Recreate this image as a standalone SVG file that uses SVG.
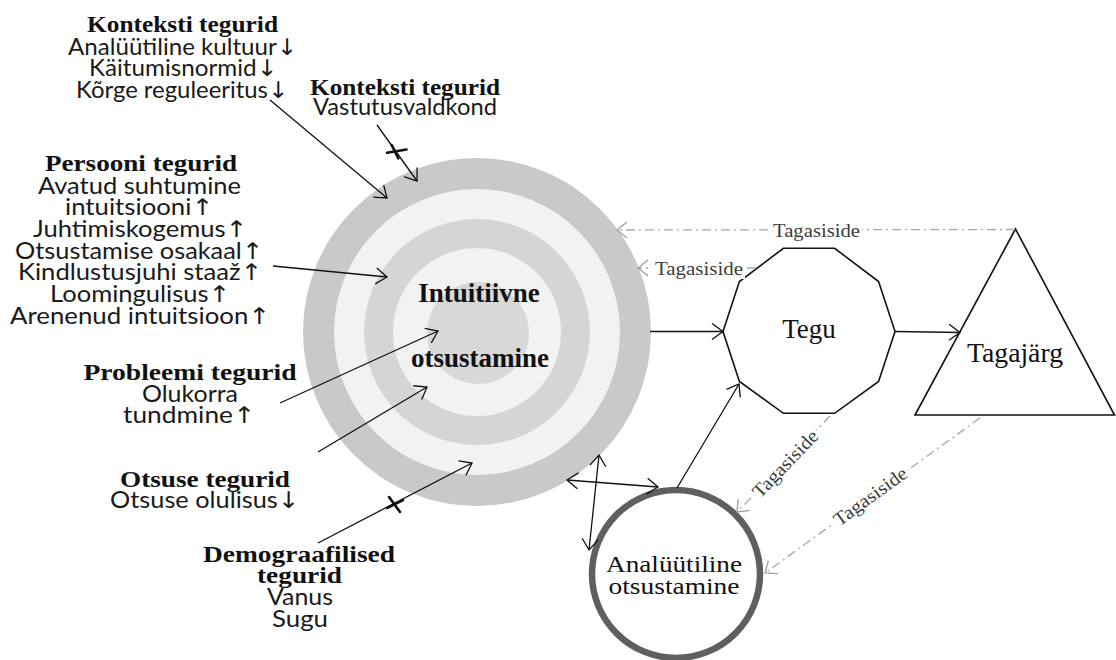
<svg xmlns="http://www.w3.org/2000/svg" width="1116" height="660" viewBox="0 0 1116 660">
<defs>
<style>
.hb{font-family:"Liberation Serif","Times New Roman",serif;font-weight:bold;font-size:24px;fill:#111;text-anchor:middle}
.sn{font-family:Lato,"DejaVu Sans",sans-serif;font-size:23px;fill:#1a1a1a;text-anchor:middle}
.sr{font-family:"Liberation Serif","Times New Roman",serif;fill:#111;text-anchor:middle}
.fb{font-family:"Liberation Serif","Times New Roman",serif;font-size:19px;fill:#3c3c3c;text-anchor:middle}
.ln{stroke:#111;stroke-width:1.3;fill:none}
.fl{stroke:#a8a8a8;stroke-width:1.3;fill:none;stroke-dasharray:9 4 2 4}
.x{stroke:#111;stroke-width:2.6;stroke-linecap:round}
.shape{fill:#fff;stroke:#111;stroke-width:1.6}
</style>
<marker id="ar" viewBox="-13 -10 15 20" refX="0" refY="0" markerWidth="15" markerHeight="20" markerUnits="userSpaceOnUse" orient="auto-start-reverse">
<path d="M-11,-8 L0,0 L-11,8" fill="none" stroke="#111" stroke-width="1.3"/>
</marker>
<marker id="ag" viewBox="-13 -10 15 20" refX="0" refY="0" markerWidth="15" markerHeight="20" markerUnits="userSpaceOnUse" orient="auto">
<path d="M-10,-8 L0,0 L-10,8" fill="none" stroke="#a0a0a0" stroke-width="1.3"/>
</marker>
</defs>
<rect width="1116" height="660" fill="#fff"/>

<g id="intuitiivne">
<circle cx="477" cy="332" r="174" fill="#c9c9c9"/>
<circle cx="477" cy="332" r="143" fill="#f2f2f2"/>
<circle cx="477" cy="332" r="113" fill="#d5d5d5"/>
<circle cx="477" cy="332" r="84" fill="#f2f2f2"/>
<circle cx="478" cy="333" r="51" fill="#d8d8d8"/>
<text class="sr" x="479" y="302" font-size="27" font-weight="bold">Intuitiivne</text>
<text class="sr" x="480" y="367" font-size="27" font-weight="bold">otsustamine</text>
</g>

<g id="tegu">
<polygon class="shape" points="895,331.5 878.6,381.5 834.6,413.3 783.4,413.3 739.4,381.5 723,331.5 739.4,281.5 783.4,248.3 834.6,248.3 878.6,281.5"/>
<text class="sr" x="809" y="338" font-size="27">Tegu</text>
</g>

<g id="tagajarg">
<polygon class="shape" points="1015.5,229 915,415 1114.5,415"/>
<text class="sr" x="1015" y="362" font-size="27" textLength="96" lengthAdjust="spacingAndGlyphs">Tagajärg</text>
</g>

<g id="analuutiline">
<circle cx="676" cy="574" r="84" fill="#fff" stroke="#5f5f5f" stroke-width="6.5"/>
<text class="sr" x="674" y="572" font-size="24" textLength="136" lengthAdjust="spacingAndGlyphs">Analüütiline</text>
<text class="sr" x="674" y="594" font-size="24" textLength="131" lengthAdjust="spacingAndGlyphs">otsustamine</text>
</g>

<g id="kontekst1">
<text class="hb" x="182.5" y="32" textLength="191" lengthAdjust="spacingAndGlyphs">Konteksti tegurid</text>
<text class="sn" x="182.5" y="55" textLength="229" lengthAdjust="spacingAndGlyphs">Analüütiline kultuur<tspan font-family="DejaVu Sans">↓</tspan></text>
<text class="sn" x="183" y="76" textLength="188" lengthAdjust="spacingAndGlyphs">Käitumisnormid<tspan font-family="DejaVu Sans">↓</tspan></text>
<text class="sn" x="182" y="97.5" textLength="212" lengthAdjust="spacingAndGlyphs">Kõrge reguleeritus<tspan font-family="DejaVu Sans">↓</tspan></text>
</g>

<g id="kontekst2">
<text class="hb" x="405" y="95" textLength="190" lengthAdjust="spacingAndGlyphs">Konteksti tegurid</text>
<text class="sn" x="405" y="115" textLength="184" lengthAdjust="spacingAndGlyphs">Vastutusvaldkond</text>
</g>

<g id="persooni">
<text class="hb" x="141" y="171" textLength="192" lengthAdjust="spacingAndGlyphs">Persooni tegurid</text>
<text class="sn" x="139.5" y="194" textLength="203" lengthAdjust="spacingAndGlyphs">Avatud suhtumine</text>
<text class="sn" x="139" y="214.5" textLength="148" lengthAdjust="spacingAndGlyphs">intuitsiooni<tspan font-family="DejaVu Sans">↑</tspan></text>
<text class="sn" x="140" y="237" textLength="214" lengthAdjust="spacingAndGlyphs">Juhtimiskogemus<tspan font-family="DejaVu Sans">↑</tspan></text>
<text class="sn" x="139" y="258.5" textLength="248" lengthAdjust="spacingAndGlyphs">Otsustamise osakaal<tspan font-family="DejaVu Sans">↑</tspan></text>
<text class="sn" x="140" y="280" textLength="244" lengthAdjust="spacingAndGlyphs">Kindlustusjuhi staaž<tspan font-family="DejaVu Sans">↑</tspan></text>
<text class="sn" x="140" y="302" textLength="180" lengthAdjust="spacingAndGlyphs">Loomingulisus<tspan font-family="DejaVu Sans">↑</tspan></text>
<text class="sn" x="140" y="323.5" textLength="260" lengthAdjust="spacingAndGlyphs">Arenenud intuitsioon<tspan font-family="DejaVu Sans">↑</tspan></text>
</g>

<g id="probleemi">
<text class="hb" x="190" y="380" textLength="213" lengthAdjust="spacingAndGlyphs">Probleemi tegurid</text>
<text class="sn" x="190" y="402" textLength="96" lengthAdjust="spacingAndGlyphs">Olukorra</text>
<text class="sn" x="189" y="423" textLength="132" lengthAdjust="spacingAndGlyphs">tundmine<tspan font-family="DejaVu Sans">↑</tspan></text>
</g>

<g id="otsuse">
<text class="hb" x="205" y="487" textLength="170" lengthAdjust="spacingAndGlyphs">Otsuse tegurid</text>
<text class="sn" x="204.5" y="508" textLength="189" lengthAdjust="spacingAndGlyphs">Otsuse olulisus<tspan font-family="DejaVu Sans">↓</tspan></text>
</g>

<g id="demograafilised">
<text class="hb" x="299" y="562" textLength="192" lengthAdjust="spacingAndGlyphs">Demograafilised</text>
<text class="hb" x="299.5" y="583" textLength="85" lengthAdjust="spacingAndGlyphs">tegurid</text>
<text class="sn" x="300" y="605" textLength="66" lengthAdjust="spacingAndGlyphs">Vanus</text>
<text class="sn" x="300" y="627" textLength="56" lengthAdjust="spacingAndGlyphs">Sugu</text>
</g>

<g id="connectors">
<line class="ln" x1="270" y1="100" x2="387" y2="198" marker-end="url(#ar)"/>
<line class="ln" x1="377" y1="125" x2="417" y2="181" marker-end="url(#ar)"/>
<line class="x" x1="387" y1="152.7" x2="406.5" y2="149.5"/>
<line class="x" x1="391.7" y1="145" x2="398.3" y2="158.3"/>
<line class="ln" x1="273" y1="266" x2="387" y2="277" marker-end="url(#ar)"/>
<line class="ln" x1="280" y1="403" x2="438" y2="331" marker-end="url(#ar)"/>
<line class="ln" x1="318" y1="452" x2="427" y2="387" marker-end="url(#ar)"/>
<line class="ln" x1="318" y1="543" x2="472" y2="463" marker-end="url(#ar)"/>
<line class="x" x1="389" y1="497" x2="400" y2="512"/>
<line class="x" x1="387" y1="508" x2="403" y2="500"/>
<line class="ln" x1="650" y1="331.5" x2="723" y2="331.5" marker-end="url(#ar)"/>
<line class="ln" x1="895" y1="331.5" x2="960" y2="332.5" marker-end="url(#ar)"/>
<line class="ln" x1="677" y1="488" x2="739" y2="384" marker-end="url(#ar)"/>
<line class="ln" x1="567" y1="480" x2="658" y2="487" marker-start="url(#ar)" marker-end="url(#ar)"/>
<line class="ln" x1="599" y1="455" x2="589" y2="550" marker-start="url(#ar)" marker-end="url(#ar)"/>

<line class="fl" x1="1015" y1="229.5" x2="617" y2="230" marker-end="url(#ag)"/>
<rect x="771" y="219" width="91" height="22" fill="#fff"/>
<text class="fb" x="816.5" y="236.5" textLength="87" lengthAdjust="spacingAndGlyphs">Tagasiside</text>

<line class="fl" x1="756" y1="268" x2="638" y2="268" marker-end="url(#ag)"/>
<rect x="652" y="257" width="93" height="22" fill="#fff"/>
<text class="fb" x="699" y="274.5" textLength="88" lengthAdjust="spacingAndGlyphs">Tagasiside</text>

<line class="fl" x1="830" y1="416" x2="737" y2="512" marker-end="url(#ag)"/>
<g transform="translate(785.5,464) rotate(-46)">
<rect x="-45" y="-10" width="90" height="19" fill="#fff"/>
<text class="fb" x="0" y="6" textLength="86" lengthAdjust="spacingAndGlyphs">Tagasiside</text>
</g>

<line class="fl" x1="980" y1="418" x2="765" y2="573" marker-end="url(#ag)"/>
<g transform="translate(870.5,496.5) rotate(-36)">
<rect x="-45" y="-10" width="90" height="19" fill="#fff"/>
<text class="fb" x="0" y="6" textLength="86" lengthAdjust="spacingAndGlyphs">Tagasiside</text>
</g>
</g>
</svg>
